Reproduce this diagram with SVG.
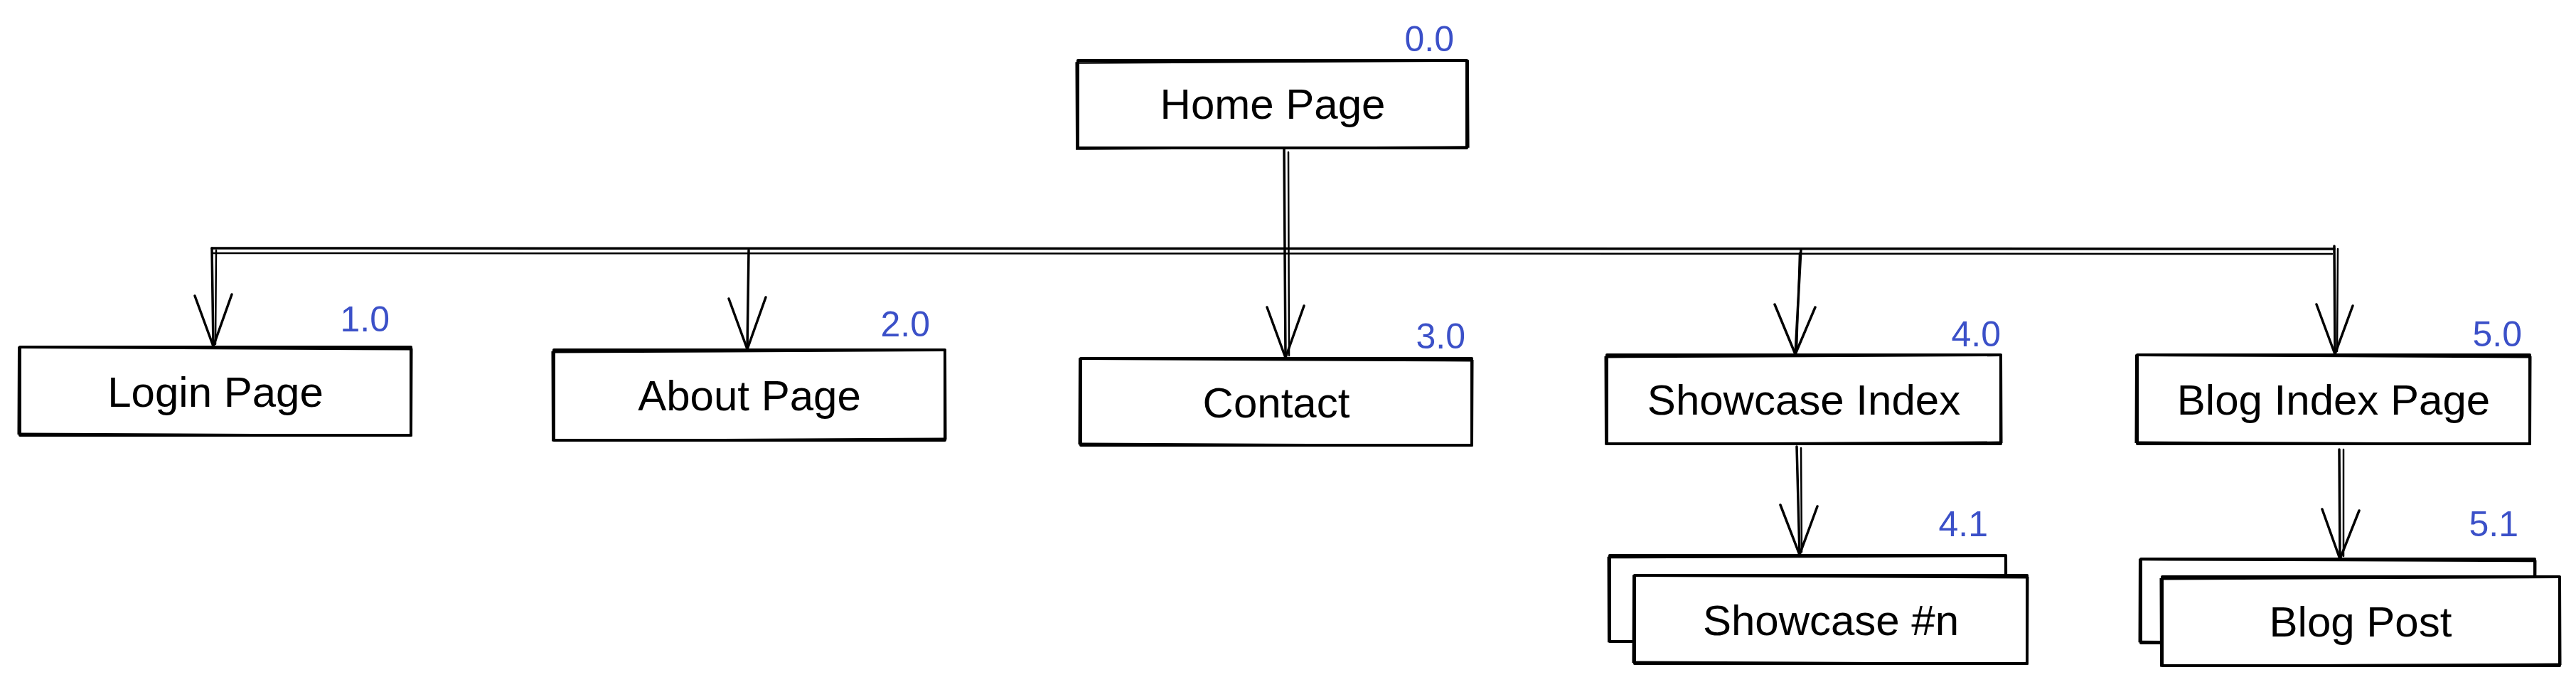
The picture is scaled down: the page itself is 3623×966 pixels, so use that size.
<svg xmlns="http://www.w3.org/2000/svg" width="3623" height="966" viewBox="0 0 3623 966">
<style>
.b{fill:#fff;stroke:#000;stroke-width:4;stroke-linejoin:round}
.b2{fill:none;stroke:#000;stroke-width:2.5}
.c{fill:none;stroke:#000;stroke-width:3.5;stroke-linecap:round;stroke-linejoin:round}
.c2{fill:none;stroke:#000;stroke-width:2.5;stroke-linecap:round}
.t{font-family:"Liberation Sans",Arial,sans-serif;font-size:60px;fill:#000;text-anchor:middle}
.n{font-family:"Liberation Sans",Arial,sans-serif;font-size:50px;fill:#3b50c8;text-anchor:end}
</style>
<rect width="3623" height="966" fill="#fff"/>
<g id="connectors">
  <path class="c" d="M1806 210 L1808 503"/>
  <path class="c2" d="M1812 214 L1813 500"/>
  <path class="c" d="M1782 432 L1808 503 L1834 430"/>
  <path class="c" d="M298 349 L3283 350"/>
  <path class="c2" d="M300 356 L3280 357"/>
  <path class="c" d="M298 349 L300 487"/>
  <path class="c2" d="M304 352 L303 484"/>
  <path class="c" d="M274 416 L300 487 L326 414"/>
  <path class="c" d="M1053 352 L1051 491"/>
  <path class="c" d="M1025 420 L1051 491 L1077 418"/>
  <path class="c" d="M2533 350 L2525 498"/>
  <path class="c2" d="M2531 356 L2527 494"/>
  <path class="c" d="M2496 428 L2525 498 L2553 432"/>
  <path class="c" d="M3283 346 L3284 498"/>
  <path class="c2" d="M3288 350 L3287 494"/>
  <path class="c" d="M3258 428 L3284 498 L3309 430"/>
  <path class="c" d="M2527 628 L2531 780"/>
  <path class="c2" d="M2533 630 L2534 776"/>
  <path class="c" d="M2504 710 L2531 780 L2556 712"/>
  <path class="c" d="M3290 632 L3291 786"/>
  <path class="c2" d="M3296 632 L3296 782"/>
  <path class="c" d="M3266 716 L3291 786 L3318 718"/>
</g>
<g id="home">
  <rect class="b" x="1516" y="85" width="547" height="123"/>
  <rect class="b2" x="1514" y="87" width="551" height="121" transform="rotate(-0.3 1790 146)"/>
  <text class="t" x="1790" y="167">Home Page</text>
  <text class="n" x="2045" y="72">0.0</text>
</g>
<g id="login">
  <rect class="b" x="28" y="488" width="550" height="124"/>
  <rect class="b2" x="26" y="490" width="553" height="121" transform="rotate(0.25 303 550)"/>
  <text class="t" x="303" y="572">Login Page</text>
  <text class="n" x="548" y="466">1.0</text>
</g>
<g id="about">
  <rect class="b" x="779" y="492" width="550" height="127"/>
  <rect class="b2" x="777" y="494" width="553" height="124" transform="rotate(-0.25 1054 555)"/>
  <text class="t" x="1054" y="577">About Page</text>
  <text class="n" x="1308" y="473">2.0</text>
</g>
<g id="contact">
  <rect class="b" x="1520" y="504" width="550" height="122"/>
  <rect class="b2" x="1518" y="506" width="553" height="119" transform="rotate(0.25 1795 565)"/>
  <text class="t" x="1795" y="587">Contact</text>
  <text class="n" x="2061" y="490">3.0</text>
</g>
<g id="showcase-index">
  <rect class="b" x="2260" y="499" width="554" height="125"/>
  <rect class="b2" x="2258" y="501" width="557" height="122" transform="rotate(-0.25 2537 561)"/>
  <text class="t" x="2537" y="583">Showcase Index</text>
  <text class="n" x="2814" y="487">4.0</text>
</g>
<g id="blog-index">
  <rect class="b" x="3006" y="499" width="552" height="125"/>
  <rect class="b2" x="3004" y="501" width="555" height="122" transform="rotate(0.25 3282 561)"/>
  <text class="t" x="3282" y="583">Blog Index Page</text>
  <text class="n" x="3547" y="487">5.0</text>
</g>
<g id="showcase-n">
  <rect class="b" x="2264" y="781" width="557" height="121"/>
  <rect class="b2" x="2262" y="783" width="560" height="118" transform="rotate(-0.2 2542 841)"/>
  <rect class="b" x="2299" y="809" width="552" height="124"/>
  <rect class="b2" x="2297" y="811" width="555" height="121" transform="rotate(0.25 2575 871)"/>
  <text class="t" x="2575" y="893">Showcase #n</text>
  <text class="n" x="2796" y="754">4.1</text>
</g>
<g id="blog-post">
  <rect class="b" x="3011" y="786" width="554" height="118"/>
  <rect class="b2" x="3009" y="788" width="557" height="115" transform="rotate(0.2 3288 845)"/>
  <rect class="b" x="3041" y="811" width="559" height="125"/>
  <rect class="b2" x="3039" y="813" width="562" height="122" transform="rotate(-0.25 3320 873)"/>
  <text class="t" x="3320" y="895">Blog Post</text>
  <text class="n" x="3542" y="754">5.1</text>
</g>
</svg>
